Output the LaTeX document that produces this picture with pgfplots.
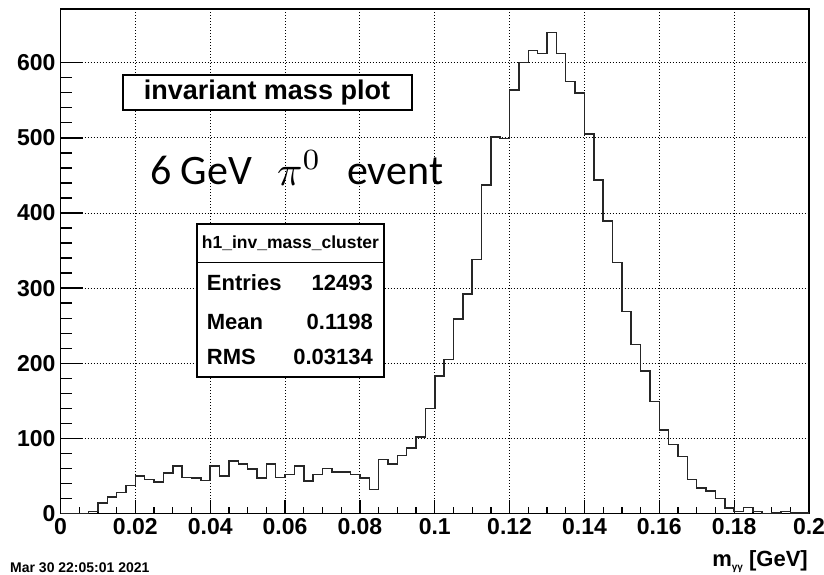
\documentclass[border=0pt]{standalone}
\usepackage{graphicx}
\usepackage{fontspec}
\setmainfont{Liberation Sans}
\newfontfamily\calibri{Carlito}
\usepackage{pgfplots}
\pgfplotsset{compat=1.18}
\begin{document}
\begin{tikzpicture}[x=1pt,y=1pt]
\useasboundingbox (0,0) rectangle (824,574);
\begin{axis}[
  at={(60.5pt,60.5pt)}, anchor=south west,
  scale only axis, width=748.5pt, height=504.5pt,
  xmin=0, xmax=0.2, ymin=0, ymax=671.5,
  axis line style={line width=1.3pt, black},
  xtick={0,0.02,0.04,0.06,0.08,0.1,0.12,0.14,0.16,0.18,0.2},
  xticklabels={0,0.02,0.04,0.06,0.08,0.1,0.12,0.14,0.16,0.18,0.2},
  minor x tick num=3,
  ytick={0,100,200,300,400,500,600},
  yticklabels={0,100,200,300,400,500,600},
  minor y tick num=4,
  tick align=inside, tick pos=left,
  grid=major,
  major grid style={black, line width=0.9pt, dash pattern=on 0.9pt off 2.1pt},
  tick style={black, line width=1.3pt},
  x tick style={/pgfplots/major tick length=14pt, /pgfplots/minor tick length=7pt},
  y tick style={/pgfplots/major tick length=22pt, /pgfplots/minor tick length=11pt},
  ticklabel style={font=\fontsize{23}{23}\selectfont\bfseries},
  xticklabel style={yshift=-1pt},
  yticklabel style={xshift=-1.5pt},
]
\addplot[const plot, black!85, line width=1.5pt, mark=none] table {
x y
0 0
0.0025 0
0.005 0
0.0075 3
0.01 14
0.0125 22
0.015 28
0.0175 37
0.02 50
0.0225 45
0.025 42
0.0275 54
0.03 63
0.0325 48
0.035 47
0.0375 44
0.04 63
0.0425 50
0.045 70
0.0475 66
0.05 59
0.0525 47
0.055 66
0.0575 48
0.06 52
0.0625 63
0.065 43
0.0675 52
0.07 60
0.0725 55
0.075 55
0.0775 52
0.08 47
0.0825 32
0.085 72
0.0875 66
0.09 77
0.0925 87
0.095 102
0.0975 140
0.1 183
0.1025 205
0.105 259
0.1075 292
0.11 338
0.1125 437
0.115 501
0.1175 499
0.12 564
0.1225 600
0.125 616
0.1275 612
0.13 640
0.1325 612
0.135 575
0.1375 560
0.14 505
0.1425 444
0.145 389
0.1475 334
0.15 269
0.1525 225
0.155 190
0.1575 149
0.16 111
0.1625 92
0.165 76
0.1675 45
0.17 34
0.1725 30
0.175 20
0.1775 7
0.18 3
0.1825 8
0.185 3
0.1875 0
0.19 1
0.1925 3
0.195 1
0.1975 1
0.2 1
};
\end{axis}
% title box
\draw[fill=white, line width=1.3pt] (123,464) rectangle (412,499);
\node[inner sep=0, anchor=center, font=\fontsize{27}{27}\selectfont\bfseries] at (267,481.5) {invariant mass plot};
% big text
\node[inner sep=0, anchor=base west, font=\calibri\fontsize{42}{42}\selectfont] at (150,389) {6 GeV};
\node[inner sep=0, anchor=base west] at (277,389) {\fontsize{10}{12}\selectfont\scalebox{4.2}{$\pi^0$}};
\node[inner sep=0, anchor=base west, font=\calibri\fontsize{42}{42}\selectfont] at (347,389) {event};
% stats box
\draw[fill=white, line width=1.3pt] (197,197) rectangle (384,350);
\draw[line width=1.3pt] (197,311.3) -- (384,311.3);
\node[inner sep=0, anchor=center, font=\fontsize{17.5}{17.5}\selectfont\bfseries] at (290.5,331) {h1\_inv\_mass\_cluster};
\node[inner sep=0, anchor=base west, font=\fontsize{22}{22}\selectfont\bfseries] at (206.7,283.5) {Entries};
\node[inner sep=0, anchor=base east, font=\fontsize{22}{22}\selectfont\bfseries] at (373,283.5) {12493};
\node[inner sep=0, anchor=base west, font=\fontsize{22}{22}\selectfont\bfseries] at (206.7,244.5) {Mean};
\node[inner sep=0, anchor=base east, font=\fontsize{22}{22}\selectfont\bfseries] at (373,244.5) {0.1198};
\node[inner sep=0, anchor=base west, font=\fontsize{22}{22}\selectfont\bfseries] at (206.7,209.5) {RMS};
\node[inner sep=0, anchor=base east, font=\fontsize{22}{22}\selectfont\bfseries] at (373,209.5) {0.03134};
% axis title
\node[inner sep=0, anchor=base east, font=\fontsize{22}{22}\selectfont\bfseries] at (808,8) {m\raisebox{-4pt}{\fontsize{10}{10}\selectfont γγ} [GeV]};
% date
\node[inner sep=0, anchor=base west, font=\fontsize{14}{14}\selectfont\bfseries] at (10,2) {Mar 30 22:05:01 2021};
\end{tikzpicture}
\end{document}
